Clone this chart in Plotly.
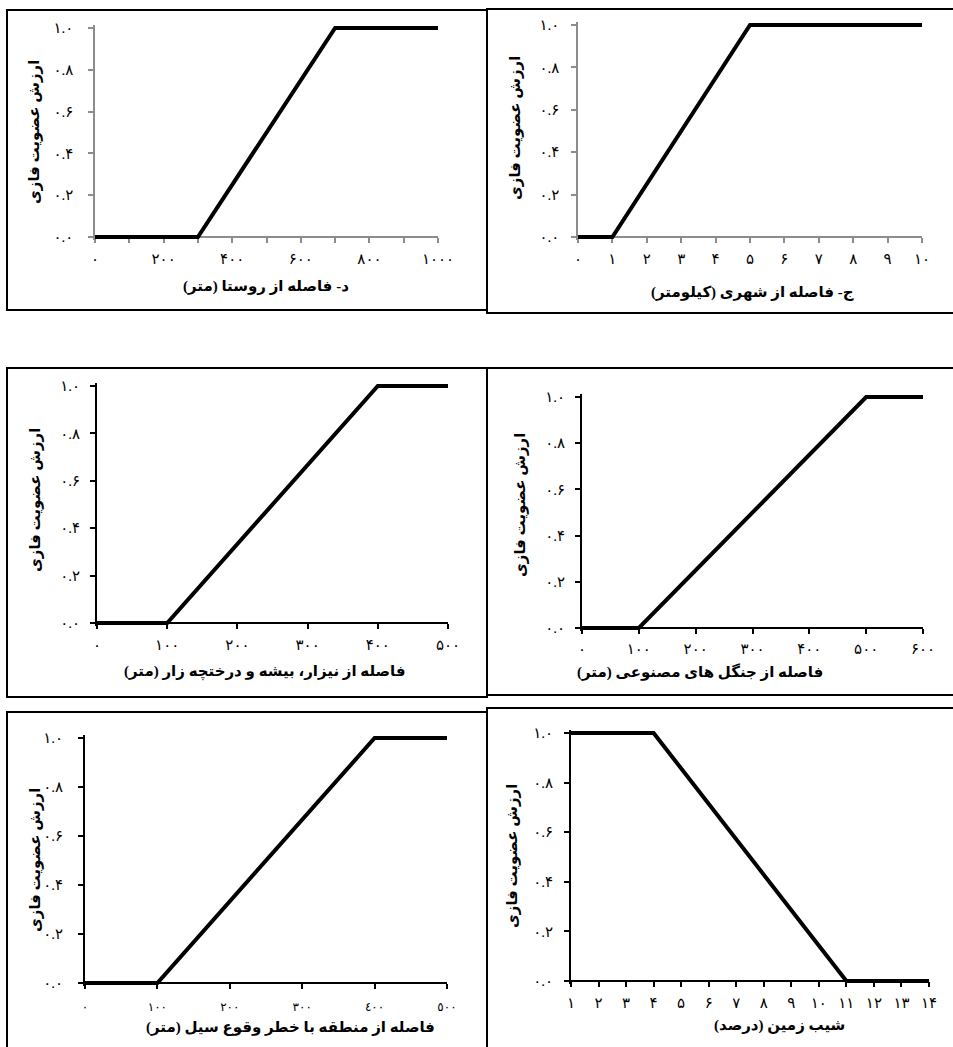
import plotly.graph_objects as go

W, H = 953, 1047

# ---------------- data ----------------
village_x = [0, 300, 700, 1000]
village_y = [0, 0, 1, 1]
city_x = [0, 1, 5, 10]
city_y = [0, 0, 1, 1]
reed_x = [0, 100, 400, 500]
reed_y = [0, 0, 1, 1]
forest_x = [0, 100, 500, 600]
forest_y = [0, 0, 1, 1]
flood_x = [0, 100, 400, 500]
flood_y = [0, 0, 1, 1]
slope_x = [1, 4, 11, 14]
slope_y = [1, 1, 0, 0]

y_tickvals = [0, 0.2, 0.4, 0.6, 0.8, 1.0]
y_ticktext = ["۰.۰", "۰.۲", "۰.۴", "۰.۶", "۰.۸", "۱.۰"]

village_tickvals = [0, 100, 200, 300, 400, 500, 600, 700, 800, 900, 1000]
village_ticktext = ["۰", "", "۲۰۰", "", "۴۰۰", "", "۶۰۰", "", "۸۰۰", "", "۱۰۰۰"]
city_tickvals = [0, 1, 2, 3, 4, 5, 6, 7, 8, 9, 10]
city_ticktext = ["۰", "۱", "۲", "۳", "۴", "۵", "۶", "۷", "۸", "۹", "۱۰"]
reed_tickvals = [0, 100, 200, 300, 400, 500]
reed_ticktext = ["۰", "۱۰۰", "۲۰۰", "۳۰۰", "۴۰۰", "۵۰۰"]
forest_tickvals = [0, 100, 200, 300, 400, 500, 600]
forest_ticktext = ["۰", "۱۰۰", "۲۰۰", "۳۰۰", "۴۰۰", "۵۰۰", "۶۰۰"]
flood_tickvals = [0, 100, 200, 300, 400, 500]
flood_ticktext = ["٠", "١٠٠", "٢٠٠", "٣٠٠", "٤٠٠", "٥٠٠"]
slope_tickvals = list(range(1, 15))
slope_ticktext = ["۱", "۲", "۳", "۴", "۵", "۶", "۷", "۸", "۹", "۱۰", "۱۱", "۱۲", "۱۳", "۱۴"]

y_title = "ارزش عضویت فازی"
x_titles = [
    "د- فاصله از روستا (متر)",
    "ج- فاصله از شهری (کیلومتر)",
    "فاصله از نیزار، بیشه و درختچه زار (متر)",
    "فاصله از جنگل های مصنوعی (متر)",
    "فاصله از منطقه با خطر وقوع سیل (متر)",
    "شیب زمین (درصد)",
]

FONT = "Times New Roman, Liberation Serif, DejaVu Sans, serif"

panels = [
    dict(x=village_x, y=village_y, tv=village_tickvals, tt=village_ticktext, xr=[0, 1000],
         px=(95, 438, 28, 237), ac="#8c8c8c", aw=1.5, xt=(266, 287), yt=(35, 132),
         tfs=15, xso=3, yso=12),
    dict(x=city_x, y=city_y, tv=city_tickvals, tt=city_ticktext, xr=[0, 10],
         px=(578, 922, 25, 237), ac="#8c8c8c", aw=1.5, xt=(752, 293), yt=(515, 128),
         tfs=15, xso=3, yso=9),
    dict(x=reed_x, y=reed_y, tv=reed_tickvals, tt=reed_ticktext, xr=[0, 500],
         px=(97, 448, 386, 623), ac="#000000", aw=2, xt=(265, 672), yt=(35, 500),
         tfs=15, xso=3, yso=7),
    dict(x=forest_x, y=forest_y, tv=forest_tickvals, tt=forest_ticktext, xr=[0, 600],
         px=(582, 923, 397, 628), ac="#000000", aw=2, xt=(700, 672), yt=(520, 505),
         tfs=15, xso=2, yso=7),
    dict(x=flood_x, y=flood_y, tv=flood_tickvals, tt=flood_ticktext, xr=[0, 500],
         px=(85, 447, 738, 983), ac="#000000", aw=2, xt=(290, 1027), yt=(35, 860),
         tfs=12, xso=8, yso=12),
    dict(x=slope_x, y=slope_y, tv=slope_tickvals, tt=slope_ticktext, xr=[1, 14],
         px=(571, 929, 733, 981), ac="#000000", aw=2, xt=(779, 1025), yt=(512, 856),
         tfs=15, xso=3, yso=8),
]

fig = go.Figure()
PAD = 0.012

for i, p in enumerate(panels, start=1):
    xa = "x" if i == 1 else f"x{i}"
    ya = "y" if i == 1 else f"y{i}"
    fig.add_trace(go.Scatter(x=p["x"], y=p["y"], mode="lines", xaxis=xa, yaxis=ya,
                             line=dict(color="black", width=4), showlegend=False,
                             hoverinfo="skip"))
    x0, x1, yt, yb = p["px"]
    span = yb - yt
    top_px = yt - PAD * span
    bot_px = yb + PAD * span
    xdom = [x0 / W, x1 / W]
    ydom = [1 - bot_px / H, 1 - top_px / H]
    xkey = "xaxis" if i == 1 else f"xaxis{i}"
    ykey = "yaxis" if i == 1 else f"yaxis{i}"
    fig.layout[xkey] = dict(
        domain=xdom, range=p["xr"], anchor="free", position=1 - yb / H,
        showline=True, linecolor=p["ac"], linewidth=p["aw"],
        ticks="outside", ticklen=5, tickcolor=p["ac"], tickwidth=1.5,
        tickvals=p["tv"], ticktext=p["tt"], showgrid=False, zeroline=False,
        tickfont=dict(family=FONT, size=p["tfs"], color="black"),
        ticklabelstandoff=p["xso"], fixedrange=True, layer="below traces", automargin=False,
    )
    fig.layout[ykey] = dict(
        domain=ydom, range=[-PAD, 1 + PAD], anchor=xa,
        showline=True, linecolor=p["ac"], linewidth=p["aw"],
        ticks="outside", ticklen=5, tickcolor=p["ac"], tickwidth=1.5,
        tickvals=y_tickvals, ticktext=y_ticktext, showgrid=False, zeroline=False,
        tickfont=dict(family=FONT, size=15, color="black"),
        ticklabelstandoff=p["yso"], fixedrange=True, layer="below traces", automargin=False,
    )
    fig.add_annotation(text="<b>" + x_titles[i - 1] + "</b>", xref="paper", yref="paper",
                       x=p["xt"][0] / W, y=1 - p["xt"][1] / H, showarrow=False,
                       xanchor="center", yanchor="middle",
                       font=dict(family=FONT, size=15, color="black"))
    fig.add_annotation(text="<b>" + y_title + "</b>", xref="paper", yref="paper",
                       x=p["yt"][0] / W, y=1 - p["yt"][1] / H, showarrow=False,
                       xanchor="center", yanchor="middle", textangle=-90,
                       font=dict(family=FONT, size=15, color="black"))

# panel frames
boxes = [(7, 487, 10, 310), (487, 956, 9, 313), (7, 487, 368, 697),
         (487, 956, 368, 695), (7, 487, 712, 1052), (487, 956, 708, 1052)]
for bx0, bx1, by0, by1 in boxes:
    fig.add_shape(type="rect", xref="paper", yref="paper",
                  x0=bx0 / W, x1=bx1 / W, y0=1 - by1 / H, y1=1 - by0 / H,
                  line=dict(color="black", width=2), fillcolor="rgba(0,0,0,0)", layer="below")

fig.update_layout(width=W, height=H, margin=dict(l=0, r=0, t=0, b=0, autoexpand=False),
                  paper_bgcolor="white", plot_bgcolor="rgba(0,0,0,0)",
                  font=dict(family=FONT, color="black"), showlegend=False)

fig.write_html("out.html", config={"displayModeBar": False},
               post_script="document.body.style.margin='0';document.body.style.overflow='hidden';")
